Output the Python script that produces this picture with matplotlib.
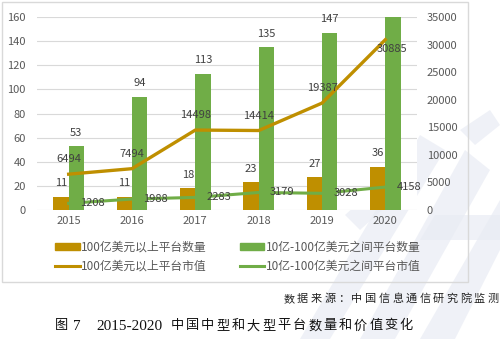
import matplotlib.pyplot as plt
import numpy as np
from matplotlib.patches import Rectangle, Polygon
from matplotlib.lines import Line2D

plt.rcParams['font.family'] = ['Noto Sans CJK SC', 'DejaVu Sans']

years = ['2015', '2016', '2017', '2018', '2019', '2020']
count_large = [11, 11, 18, 23, 27, 36]          # 100亿美元以上平台数量
count_mid = [53, 94, 113, 135, 147, 160]        # 10亿-100亿美元之间平台数量
value_large = [6494, 7494, 14498, 14414, 19387, 30885]
value_mid = [1208, 1988, 2283, 3179, 3028, 4158]

GOLD = '#BF8F00'
GREEN = '#70AD47'
TXT = '#595959'
LBL = '#404040'
FS = 8

W, H = 500, 339
fig = plt.figure(figsize=(W / 100, H / 100), dpi=100)


def px(x, y):
    return x / W, 1 - y / H


# pale watermark strokes in the lower right corner
wm = '#e9ecf4'
shapes = [
    [(300, 339), (330, 339), (445, 150), (420, 135)],
    [(360, 339), (395, 339), (490, 170), (465, 150)],
    [(420, 339), (455, 339), (500, 250), (500, 200)],
    [(420, 240), (500, 240), (500, 215), (435, 215)],
    [(345, 215), (395, 170), (410, 185), (360, 230)],
    [(460, 130), (490, 110), (500, 125), (475, 145)],
]
for pts in shapes:
    fig.patches.append(Polygon([px(*p) for p in pts], closed=True,
                               transform=fig.transFigure, facecolor=wm,
                               edgecolor='none', alpha=0.7, zorder=-5))

# chart frame
fig.patches.append(Rectangle(px(2, 282), 466 / W, 280 / H,
                             transform=fig.transFigure, fill=False,
                             edgecolor='#d9d9d9', linewidth=1.0, zorder=-1))

ax = fig.add_axes([37 / W, 1 - 210 / H, 380 / W, 193 / H])
ax2 = ax.twinx()

x = np.arange(len(years))
bw = 0.24
ax.bar(x - bw / 2, count_large, bw, color=GOLD, zorder=2)
ax.bar(x + bw / 2, count_mid, bw, color=GREEN, zorder=2)

ax.set_xlim(-0.5, len(years) - 0.5)
ax.set_ylim(0, 160)
ax.set_yticks(range(0, 161, 20))
ax.grid(axis='y', color='#d9d9d9', linewidth=0.8, zorder=0)
ax.set_axisbelow(True)
for s in list(ax.spines.values()) + list(ax2.spines.values()):
    s.set_visible(False)
ax.tick_params(length=0, colors=TXT, labelsize=FS)
ax.tick_params(axis='y', pad=8)
ax.tick_params(axis='x', pad=4)
ax.set_xticks(x)
ax.set_xticklabels(years)

ax2.set_ylim(0, 35000)
ax2.set_yticks(range(0, 35001, 5000))
ax2.tick_params(length=0, colors=TXT, labelsize=FS, pad=7)

ax2.plot(x, value_large, color=GOLD, linewidth=2.4, zorder=3)
ax2.plot(x, value_mid, color=GREEN, linewidth=2.2, zorder=3)

for i in range(len(years)):
    ax.annotate(str(count_large[i]), (x[i] - bw / 2, count_large[i]),
                xytext=(0, 6), textcoords='offset points', ha='center',
                va='bottom', fontsize=FS, color=LBL)
    if count_mid[i] < 155:
        ax.annotate(str(count_mid[i]), (x[i] + bw / 2, count_mid[i]),
                    xytext=(0, 6), textcoords='offset points', ha='center',
                    va='bottom', fontsize=FS, color=LBL)
    last = i == len(years) - 1
    ax2.annotate(str(value_large[i]), (x[i], value_large[i]),
                 xytext=(5, -7) if last else (0, 7), textcoords='offset points',
                 ha='center', va='center' if last else 'bottom', fontsize=FS,
                 color=LBL, zorder=4)
    ax2.annotate(str(value_mid[i]), (x[i], value_mid[i]),
                 xytext=(17, 0), textcoords='offset points', ha='center',
                 va='center', fontsize=FS, color=LBL, zorder=4)

handles = [
    Rectangle((0, 0), 1, 1, color=GOLD),
    Line2D([], [], color=GOLD, linewidth=2.2),
    Rectangle((0, 0), 1, 1, color=GREEN),
    Line2D([], [], color=GREEN, linewidth=2.2),
]
labels = ['100亿美元以上平台数量', '100亿美元以上平台市值',
          '10亿-100亿美元之间平台数量', '10亿-100亿美元之间平台市值']
fig.legend(handles, labels, ncol=2, loc='center left', frameon=False,
           bbox_to_anchor=px(55, 256.5), borderpad=0, borderaxespad=0,
           fontsize=8.5, labelcolor=TXT, handlelength=2.1, handleheight=0.45,
           handletextpad=0.1, columnspacing=2.8, labelspacing=0.5)

# source note, characters set with wide tracking
source = '数据来源：中国信息通信研究院监测'
for k, ch in enumerate(source):
    fig.text(*px(289 + k * 13.6, 299), ch, ha='center', va='center',
             fontsize=8, color='#222222')

# figure caption
fig.text(*px(61, 326), '图', ha='center', va='center', fontsize=9.5,
         color='#111111')
fig.text(*px(73, 326), '7', ha='left', va='center', fontsize=11,
         family='Liberation Serif', color='#111111')
fig.text(*px(96, 326), '2015-2020', ha='left', va='center', fontsize=11,
         family='Liberation Serif', color='#111111')
caption = '中国中型和大型平台数量和价值变化'
for k, ch in enumerate(caption):
    fig.text(*px(177 + k * 15.3, 326), ch, ha='center', va='center',
             fontsize=9.5, color='#111111')

fig.savefig('out.png', dpi=100)
